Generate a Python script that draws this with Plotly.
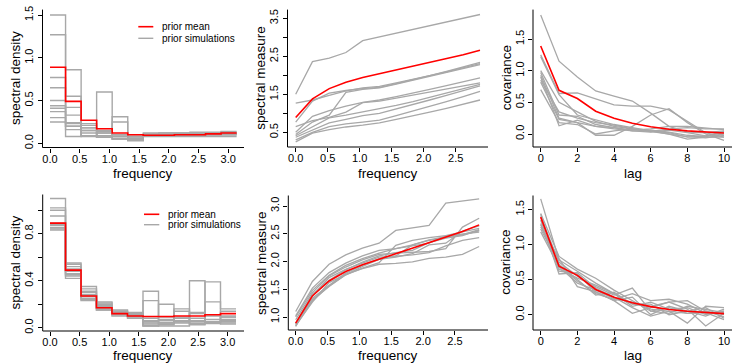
import plotly.graph_objects as go

# ---------------- data ----------------
freq_edges = [0.0, 0.262, 0.524, 0.785, 1.047, 1.309, 1.571, 1.833, 2.094, 2.356, 2.618, 2.880, 3.142]
freq_points = [0.0, 0.262, 0.524, 0.785, 1.047, 1.309, 1.571, 1.833, 2.094, 2.356, 2.618, 2.880]
lags = [0, 1, 2, 3, 4, 5, 6, 7, 8, 9, 10]

prior_mean_density = [0.89, 0.49, 0.27, 0.17, 0.12, 0.10, 0.095, 0.095, 0.10, 0.10, 0.11, 0.12]
prior_mean_measure = [0.89, 1.38, 1.65, 1.82, 1.94, 2.04, 2.135, 2.23, 2.33, 2.43, 2.54, 2.66]
prior_mean_cov = [1.39, 0.69, 0.56, 0.36, 0.25, 0.17, 0.115, 0.075, 0.05, 0.03, 0.015]

top_sim_density = [
    [1.50, 0.86, 0.09, 0.15, 0.31, 0.10, 0.09, 0.10, 0.10, 0.10, 0.10, 0.10],
    [1.27, 0.08, 0.12, 0.12, 0.08, 0.04, 0.09, 0.09, 0.10, 0.10, 0.11, 0.11],
    [0.77, 0.55, 0.21, 0.07, 0.05, 0.03, 0.10, 0.10, 0.11, 0.11, 0.12, 0.12],
    [0.44, 0.33, 0.18, 0.60, 0.08, 0.04, 0.10, 0.10, 0.10, 0.10, 0.10, 0.11],
    [0.50, 0.42, 0.15, 0.12, 0.10, 0.06, 0.09, 0.09, 0.10, 0.10, 0.10, 0.10],
    [0.65, 0.16, 0.08, 0.14, 0.25, 0.04, 0.08, 0.08, 0.08, 0.08, 0.08, 0.08],
    [0.41, 0.24, 0.23, 0.07, 0.08, 0.08, 0.10, 0.10, 0.11, 0.11, 0.11, 0.12],
    [0.37, 0.20, 0.18, 0.09, 0.10, 0.06, 0.11, 0.12, 0.12, 0.12, 0.12, 0.13],
    [0.30, 0.20, 0.15, 0.07, 0.05, 0.05, 0.12, 0.12, 0.12, 0.13, 0.13, 0.14],
    [0.25, 0.23, 0.09, 0.07, 0.05, 0.06, 0.09, 0.09, 0.10, 0.10, 0.11, 0.11],
]
top_sim_measure = [
    [1.50, 2.36, 2.45, 2.60, 2.91, 3.01, 3.10, 3.20, 3.30, 3.40, 3.50, 3.60],
    [1.27, 1.35, 1.47, 1.59, 1.67, 1.71, 1.80, 1.89, 1.99, 2.09, 2.20, 2.31],
    [0.77, 1.32, 1.53, 1.60, 1.65, 1.68, 1.78, 1.88, 1.99, 2.10, 2.22, 2.34],
    [0.44, 0.77, 0.95, 1.55, 1.63, 1.67, 1.77, 1.87, 1.97, 2.07, 2.17, 2.28],
    [0.50, 0.92, 1.07, 1.19, 1.29, 1.35, 1.44, 1.53, 1.63, 1.73, 1.83, 1.93],
    [0.65, 0.81, 0.89, 1.03, 1.28, 1.32, 1.40, 1.48, 1.56, 1.64, 1.72, 1.80],
    [0.41, 0.65, 0.88, 0.95, 1.03, 1.11, 1.21, 1.31, 1.42, 1.53, 1.64, 1.76],
    [0.37, 0.57, 0.75, 0.84, 0.94, 1.00, 1.11, 1.23, 1.35, 1.47, 1.59, 1.72],
    [0.30, 0.50, 0.65, 0.72, 0.77, 0.82, 0.94, 1.06, 1.18, 1.31, 1.44, 1.58],
    [0.25, 0.48, 0.57, 0.64, 0.69, 0.75, 0.84, 0.93, 1.03, 1.13, 1.24, 1.35],
]
top_sim_cov = [
    [1.88, 1.15, 0.90, 0.68, 0.60, 0.52, 0.33, 0.12, 0.03, 0.02, 0.05],
    [1.25, 0.64, 0.65, 0.56, 0.46, 0.44, 0.44, 0.38, 0.20, 0.02, -0.05],
    [1.22, 0.62, 0.30, 0.22, 0.15, 0.10, 0.05, 0.02, -0.05, -0.03, 0.04],
    [1.00, 0.50, 0.35, 0.20, 0.12, 0.08, 0.04, 0.00, -0.04, -0.06, -0.02],
    [0.97, 0.30, 0.28, 0.15, 0.10, 0.05, 0.03, 0.06, 0.02, -0.03, 0.02],
    [0.93, 0.25, 0.18, -0.02, -0.02, 0.12, 0.30, 0.40, 0.18, 0.00, -0.10],
    [0.90, 0.13, 0.22, 0.12, 0.08, 0.05, 0.05, 0.00, -0.08, -0.05, -0.05],
    [0.85, 0.35, 0.25, 0.18, 0.14, 0.08, 0.06, 0.03, -0.02, -0.04, 0.00],
    [0.82, 0.23, 0.18, 0.12, 0.10, 0.06, 0.08, 0.12, 0.12, 0.10, 0.07],
    [0.70, 0.18, 0.15, 0.00, 0.05, 0.08, 0.04, 0.08, 0.10, 0.08, 0.08],
]

bottom_sim_density = [
    [1.10, 0.54, 0.31, 0.17, 0.12, 0.09, 0.23, 0.04, 0.05, 0.40, 0.04, 0.04],
    [0.95, 0.49, 0.30, 0.16, 0.13, 0.10, 0.02, 0.015, 0.015, 0.05, 0.39, 0.16],
    [0.84, 0.45, 0.27, 0.20, 0.12, 0.10, 0.31, 0.09, 0.05, 0.035, 0.07, 0.06],
    [0.88, 0.46, 0.23, 0.22, 0.14, 0.12, 0.05, 0.20, 0.08, 0.05, 0.05, 0.07],
    [0.87, 0.44, 0.24, 0.21, 0.15, 0.13, 0.04, 0.06, 0.16, 0.03, 0.22, 0.09],
    [0.89, 0.52, 0.25, 0.19, 0.14, 0.11, 0.06, 0.04, 0.14, 0.08, 0.045, 0.10],
    [1.02, 0.50, 0.28, 0.17, 0.13, 0.10, 0.03, 0.045, 0.055, 0.13, 0.04, 0.03],
    [0.83, 0.55, 0.33, 0.15, 0.11, 0.11, 0.015, 0.025, 0.04, 0.12, 0.10, 0.05],
    [0.85, 0.42, 0.35, 0.15, 0.10, 0.08, 0.015, 0.03, 0.06, 0.025, 0.05, 0.14],
    [1.00, 0.48, 0.27, 0.18, 0.12, 0.10, 0.08, 0.07, 0.09, 0.06, 0.035, 0.09],
]
bottom_sim_measure = [
    [1.10, 1.64, 1.95, 2.12, 2.24, 2.33, 2.56, 2.60, 2.65, 3.05, 3.09, 3.13],
    [0.95, 1.44, 1.74, 1.90, 2.03, 2.13, 2.15, 2.165, 2.18, 2.23, 2.62, 2.78],
    [0.84, 1.29, 1.56, 1.76, 1.88, 1.98, 2.29, 2.38, 2.43, 2.465, 2.535, 2.595],
    [0.88, 1.34, 1.57, 1.79, 1.93, 2.05, 2.10, 2.30, 2.38, 2.43, 2.48, 2.55],
    [0.87, 1.31, 1.55, 1.76, 1.91, 2.04, 2.08, 2.14, 2.30, 2.33, 2.55, 2.64],
    [0.89, 1.41, 1.66, 1.85, 1.99, 2.10, 2.16, 2.20, 2.34, 2.42, 2.465, 2.565],
    [1.02, 1.52, 1.80, 1.97, 2.10, 2.20, 2.23, 2.275, 2.33, 2.46, 2.50, 2.53],
    [0.83, 1.38, 1.71, 1.86, 1.97, 2.08, 2.095, 2.12, 2.16, 2.28, 2.38, 2.43],
    [0.85, 1.27, 1.62, 1.77, 1.87, 1.95, 1.965, 1.995, 2.055, 2.08, 2.13, 2.27],
    [1.00, 1.48, 1.75, 1.93, 2.05, 2.15, 2.23, 2.30, 2.39, 2.45, 2.485, 2.575],
]
bottom_sim_cov = [
    [1.65, 0.78, 0.62, 0.45, 0.30, 0.15, 0.12, 0.18, 0.20, 0.05, 0.00],
    [1.44, 0.83, 0.65, 0.52, 0.35, 0.20, 0.05, 0.10, 0.02, 0.03, -0.07],
    [1.40, 0.75, 0.55, 0.40, 0.28, 0.38, 0.05, 0.02, 0.12, 0.08, 0.03],
    [1.35, 0.58, 0.60, 0.38, 0.25, 0.10, -0.02, 0.05, -0.12, 0.12, 0.10],
    [1.28, 0.70, 0.48, 0.30, 0.22, 0.30, 0.20, 0.22, 0.15, 0.02, 0.05],
    [1.25, 0.80, 0.40, 0.33, 0.20, 0.02, 0.10, 0.18, 0.08, -0.16, 0.02],
    [1.22, 0.72, 0.50, 0.28, 0.32, 0.15, 0.15, 0.00, 0.05, -0.02, 0.08],
    [1.18, 0.68, 0.45, 0.35, 0.23, 0.18, 0.08, 0.05, 0.02, 0.05, -0.03],
    [1.43, 0.65, 0.52, 0.42, 0.30, 0.12, 0.18, 0.08, 0.10, 0.00, 0.05],
    [1.30, 0.62, 0.58, 0.32, 0.20, 0.25, 0.00, 0.12, 0.05, 0.10, -0.05],
]

freq_ticks_full = [0.0, 0.5, 1.0, 1.5, 2.0, 2.5, 3.0]
freq_ticks_short = [0.0, 0.5, 1.0, 1.5, 2.0, 2.5]
lag_ticks = [0, 2, 4, 6, 8, 10]
dens_top_ticks = [0.0, 0.5, 1.0, 1.5]
dens_bot_ticks = [0.0, 0.2, 0.4, 0.6, 0.8, 1.0]
dens_bot_labels = ["0.0", "", "0.4", "", "0.8", ""]
meas_top_ticks = [0.5, 1.0, 1.5, 2.0, 2.5, 3.0, 3.5]
meas_top_labels = ["0.5", "", "1.5", "", "2.5", "", "3.5"]
meas_bot_ticks = [1.0, 1.5, 2.0, 2.5, 3.0]
cov_ticks = [0.0, 0.5, 1.0, 1.5]

# ---------------- layout helpers ----------------
W, H = 732, 364
FONT = "Liberation Sans, Arial, sans-serif"
GREY = "#a8a8a8"
RED = "#ff0000"


def fx(p):
    return p / W


def fy(p):
    return 1 - p / H


# pixel geometry of each plot region and a reference tick (value, pixel) + scale
panels = [
    dict(L=42.5, R=244.0, T=9.6, B=147.5, xv=0, xp=50.0, xs=59.4, yv=0, yp=143.3, ys=85.5),
    dict(L=287.5, R=488.0, T=9.6, B=147.0, xv=0, xp=295.7, xs=64.0, yv=0.5, yp=132.3, ys=38.0),
    dict(L=533.0, R=732.0, T=9.6, B=147.0, xv=0, xp=540.7, xs=18.33, yv=0, yp=134.0, ys=63.3),
    dict(L=42.7, R=244.0, T=194.5, B=331.0, xv=0, xp=50.0, xs=59.2, yv=0, yp=327.7, ys=117.5),
    dict(L=288.3, R=488.0, T=195.5, B=330.0, xv=0, xp=295.7, xs=63.7, yv=1.0, yp=317.0, ys=55.5),
    dict(L=533.0, R=732.0, T=195.5, B=330.0, xv=0, xp=540.7, xs=18.33, yv=0, yp=314.7, ys=70.2),
]

fig = go.Figure()
layout = dict(
    width=W, height=H, margin=dict(l=0, r=0, t=0, b=0),
    paper_bgcolor="white", plot_bgcolor="white", showlegend=False,
    font=dict(family=FONT, color="black"),
)
shapes = []
annotations = []

tick_specs = [
    (freq_ticks_full, None, dens_top_ticks, None),
    (freq_ticks_short, None, meas_top_ticks, meas_top_labels),
    (lag_ticks, None, cov_ticks, None),
    (freq_ticks_full, None, dens_bot_ticks, dens_bot_labels),
    (freq_ticks_short, None, meas_bot_ticks, None),
    (lag_ticks, None, cov_ticks, None),
]


def fmt(v, dec):
    return f"{v:.{dec}f}"


for i, p in enumerate(panels):
    n = "" if i == 0 else str(i + 1)
    xr = [p["xv"] + (p["L"] - p["xp"]) / p["xs"], p["xv"] + (p["R"] - p["xp"]) / p["xs"]]
    yr = [p["yv"] - (p["B"] - p["yp"]) / p["ys"], p["yv"] + (p["yp"] - p["T"]) / p["ys"]]
    xt, xl, yt, yl = tick_specs[i]
    xdec = 0 if i in (2, 5) else 1
    if xl is None:
        xl = [fmt(v, xdec) for v in xt]
    if yl is None:
        yl = [fmt(v, 1) for v in yt]
    common = dict(showgrid=False, zeroline=False, showline=False, ticks="outside",
                  ticklen=4, tickwidth=1, tickcolor="black", fixedrange=True,
                  tickfont=dict(size=11, family=FONT, color="black"), automargin=False)
    layout["xaxis" + n] = dict(domain=[fx(p["L"]), fx(p["R"])], range=xr, tickvals=xt,
                               ticktext=xl, anchor="y" + n, ticklabelstandoff=-3, **common)
    layout["yaxis" + n] = dict(domain=[fy(p["B"]), fy(p["T"])], range=yr, tickvals=yt,
                               ticktext=yl, anchor="x" + n, tickangle=-90, **common)
    # L-shaped box (bty = "l")
    shapes.append(dict(type="line", xref="paper", yref="paper", x0=fx(p["L"]), x1=fx(p["L"]),
                       y0=fy(p["T"]), y1=fy(p["B"]), line=dict(color="black", width=1)))
    shapes.append(dict(type="line", xref="paper", yref="paper", x0=fx(p["L"]), x1=fx(p["R"]),
                       y0=fy(p["B"]), y1=fy(p["B"]), line=dict(color="black", width=1)))


def add_line(x, y, idx, color, width, shape="linear"):
    n = "" if idx == 0 else str(idx + 1)
    fig.add_trace(go.Scatter(x=x, y=y, mode="lines", line=dict(color=color, width=width, shape=shape),
                             xaxis="x" + n, yaxis="y" + n, hoverinfo="skip"))


# top row
for d in top_sim_density:
    add_line(freq_edges, d + [d[-1]], 0, GREY, 1.4, "hv")
add_line(freq_edges, prior_mean_density + [prior_mean_density[-1]], 0, RED, 1.6, "hv")
for m in top_sim_measure:
    add_line(freq_points, m, 1, GREY, 1.3)
add_line(freq_points, prior_mean_measure, 1, RED, 1.6)
for c in top_sim_cov:
    add_line(lags, c, 2, GREY, 1.3)
add_line(lags, prior_mean_cov, 2, RED, 1.6)

# bottom row
for d in bottom_sim_density:
    add_line(freq_edges, d + [d[-1]], 3, GREY, 1.4, "hv")
add_line(freq_edges, prior_mean_density + [prior_mean_density[-1]], 3, RED, 1.6, "hv")
for m in bottom_sim_measure:
    add_line(freq_points, m, 4, GREY, 1.3)
add_line(freq_points, prior_mean_measure, 4, RED, 1.6)
for c in bottom_sim_cov:
    add_line(lags, c, 5, GREY, 1.3)
add_line(lags, prior_mean_cov, 5, RED, 1.6)

# axis titles
xtitles = ["frequency", "frequency", "lag", "frequency", "frequency", "lag"]
ytitles = ["spectral density", "spectral measure", "covariance",
           "spectral density", "spectral measure", "covariance"]
for i, p in enumerate(panels):
    ty = 173.3 if i < 3 else 355.3
    annotations.append(dict(text=xtitles[i], xref="paper", yref="paper",
                            x=fx((p["L"] + p["R"]) / 2), y=fy(ty), showarrow=False,
                            xanchor="center", yanchor="middle",
                            font=dict(size=13.5, family=FONT, color="black")))
    annotations.append(dict(text=ytitles[i], xref="paper", yref="paper",
                            x=fx(p["L"] - 27), y=fy((p["T"] + p["B"]) / 2), showarrow=False,
                            textangle=-90, xanchor="center", yanchor="middle",
                            font=dict(size=13.5, family=FONT, color="black")))

# legends (panels 1 and 4)
legend_pos = [(138.3, 153.3, 160.0, 26.7, 38.3), (144.0, 159.3, 165.7, 214.3, 224.7)]
for (lx0, lx1, tx, y1, y2) in legend_pos:
    shapes.append(dict(type="line", xref="paper", yref="paper", x0=fx(lx0), x1=fx(lx1),
                       y0=fy(y1), y1=fy(y1), line=dict(color=RED, width=1.6)))
    shapes.append(dict(type="line", xref="paper", yref="paper", x0=fx(lx0), x1=fx(lx1),
                       y0=fy(y2), y1=fy(y2), line=dict(color=GREY, width=1.4)))
    annotations.append(dict(text="prior mean", xref="paper", yref="paper", x=fx(tx), y=fy(y1),
                            showarrow=False, xanchor="left", yanchor="middle",
                            font=dict(size=10, family=FONT, color="black")))
    annotations.append(dict(text="prior simulations", xref="paper", yref="paper", x=fx(tx),
                            y=fy(y2), showarrow=False, xanchor="left", yanchor="middle",
                            font=dict(size=10, family=FONT, color="black")))

layout["shapes"] = shapes
layout["annotations"] = annotations
fig.update_layout(**layout)
fig.write_html("out.html", config={"displayModeBar": False},
               post_script="document.body.style.margin='0px';document.body.style.overflow='hidden';")
